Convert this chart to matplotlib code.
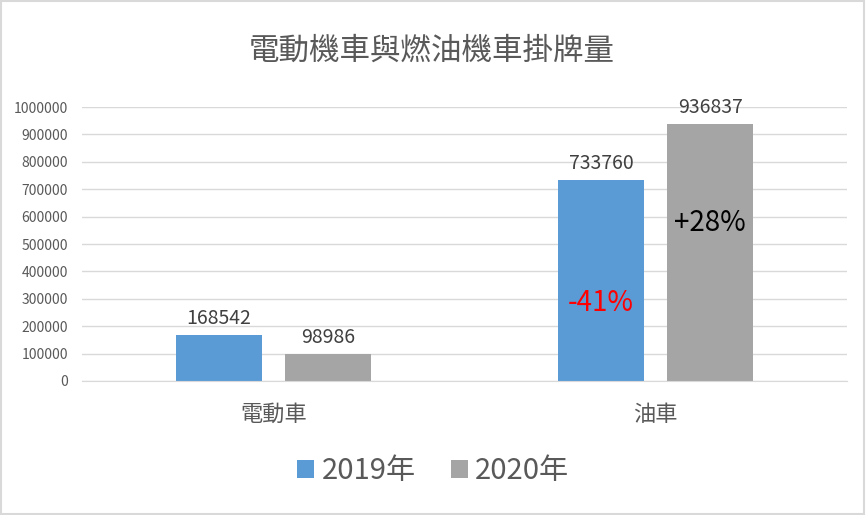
import matplotlib.pyplot as plt
from matplotlib.patches import Rectangle
import numpy as np

plt.rcParams['font.family'] = ['Noto Sans CJK TC', 'DejaVu Sans']

categories = ['電動車', '油車']
years = ['2019年', '2020年']
v2019 = [168542, 733760]
v2020 = [98986, 936837]
changes = ['-41%', '+28%']
ticks = list(range(0, 1000001, 100000))

blue = '#5b9bd5'
gray = '#a5a5a5'
txt = '#595959'

fig = plt.figure(figsize=(8.66, 5.15), dpi=100)
ax = fig.add_axes([0.0947, 0.2602, 0.8833, 0.532])

x = np.arange(len(categories))
w = 0.225
off = 0.1425
b1 = ax.bar(x - off, v2019, w, color=blue, label=years[0])
b2 = ax.bar(x + off, v2020, w, color=gray, label=years[1])

for bars in (b1, b2):
    for r in bars:
        ax.text(r.get_x() + r.get_width() / 2, r.get_height() + 22000,
                str(int(r.get_height())), ha='center', va='bottom',
                fontsize=14, color='#404040')

# change labels on the fuel-vehicle bars
ax.text(x[1] - off, 285000, changes[0], ha='center', va='center',
        fontsize=20, color='#ff0000')
ax.text(x[1] + off, 575000, changes[1], ha='center', va='center',
        fontsize=20, color='black')

ax.set_xlim(-0.5, 1.5)
ax.set_ylim(0, 1000000)
ax.set_yticks(ticks)
ax.set_yticklabels([str(t) for t in ticks], fontsize=10, color=txt)
ax.set_xticks(x)
ax.set_xticklabels(categories, fontsize=16, color=txt)
ax.tick_params(axis='both', length=0)
ax.tick_params(axis='x', pad=16)
ax.tick_params(axis='y', pad=10)
ax.grid(axis='y', color='#d9d9d9', linewidth=1)
ax.set_axisbelow(True)
for s in ['top', 'right', 'left']:
    ax.spines[s].set_visible(False)
ax.spines['bottom'].set_color('#d9d9d9')

fig.text(0.499, 0.9, '電動機車與燃油機車掛牌量', ha='center', va='center',
         fontsize=22, color=txt)

fig.legend(loc='center', bbox_to_anchor=(0.5, 0.085), ncol=2, frameon=False,
           fontsize=21, labelcolor=txt, handlelength=0.6, handleheight=0.6,
           handletextpad=0.25, columnspacing=1.2)

fig.patches.append(Rectangle((0.001, 0.002), 0.997, 0.996, transform=fig.transFigure,
                             fill=False, edgecolor='#d9d9d9', linewidth=1.5))

fig.savefig('out.png', dpi=100)
